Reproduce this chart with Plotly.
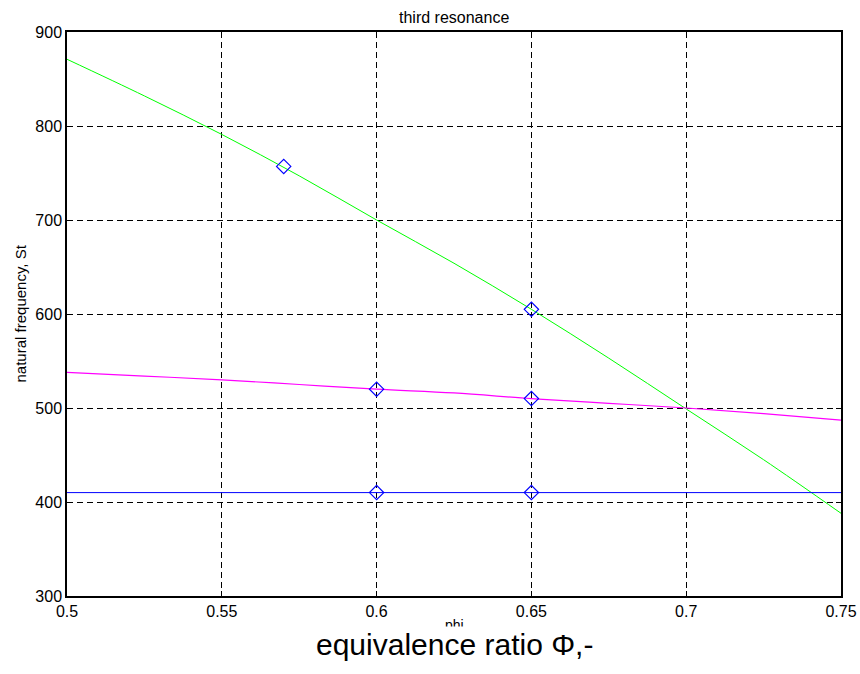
import plotly.graph_objects as go

# --- data ---
phi_curve = [0.5, 0.525, 0.55, 0.575, 0.6, 0.625, 0.65, 0.675, 0.7, 0.725, 0.75]
green_vals = [871, 832, 791, 747, 700, 654, 605, 553, 499, 445, 388]
magenta_vals = [538, 534, 530, 525, 520, 516, 510, 505, 500, 494, 487]
blue_phi = [0.5, 0.75]
blue_vals = [410, 410]

marker_phi = [0.57, 0.65, 0.6, 0.65, 0.6, 0.65]
marker_vals = [757, 605, 520, 510, 410, 410]

x_ticks = [0.5, 0.55, 0.6, 0.65, 0.7, 0.75]
y_ticks = [300, 400, 500, 600, 700, 800, 900]

FONT = "Liberation Sans, Arial, sans-serif"

fig = go.Figure()
fig.add_trace(go.Scatter(x=phi_curve, y=green_vals, mode="lines",
                         line=dict(color="#00ff00", width=1, shape="spline"),
                         showlegend=False))
fig.add_trace(go.Scatter(x=phi_curve, y=magenta_vals, mode="lines",
                         line=dict(color="#ff00ff", width=1.2, shape="spline"),
                         showlegend=False))
fig.add_trace(go.Scatter(x=blue_phi, y=blue_vals, mode="lines",
                         line=dict(color="#0000ff", width=1),
                         showlegend=False))
fig.add_trace(go.Scatter(x=marker_phi, y=marker_vals, mode="markers",
                         marker=dict(symbol="diamond-open", size=11,
                                     color="#0000ff", line=dict(width=1.2, color="#0000ff")),
                         showlegend=False))

axis_common = dict(
    showline=True, linecolor="black", linewidth=1.5, mirror="ticks",
    ticks="inside", ticklen=5, tickcolor="black", automargin=False,
    showgrid=True, gridcolor="black", gridwidth=1, griddash="6px,4px",
    zeroline=False, tickfont=dict(family=FONT, size=16, color="black"),
)

fig.update_xaxes(range=[0.5, 0.75], tickvals=x_ticks,
                 ticktext=[f"{v:g}" for v in x_ticks], **axis_common)
fig.update_yaxes(range=[300, 900], tickvals=y_ticks, **axis_common)

fig.update_layout(
    width=860, height=674,
    margin=dict(l=67, r=19, t=32, b=78),
    paper_bgcolor="white", plot_bgcolor="white",
    font=dict(family=FONT, color="black"),
    annotations=[
        dict(text="third resonance", x=0.5, y=1, xref="paper", yref="paper",
             xanchor="center", yanchor="bottom", yshift=4, showarrow=False,
             font=dict(size=16, family=FONT)),
        dict(text="natural frequency, St", x=0, y=0.5, xref="paper", yref="paper",
             xanchor="right", yanchor="middle", xshift=-37, textangle=-90,
             showarrow=False, font=dict(size=15, family=FONT)),
        dict(text="phi", x=0.5, y=0, xref="paper", yref="paper",
             xanchor="center", yanchor="top", yshift=-19,
             showarrow=False, font=dict(size=14, family=FONT)),
        dict(text="equivalence ratio \u03a6,-", x=0.5, y=0, xref="paper", yref="paper",
             xanchor="center", yanchor="top", yshift=-30, showarrow=False,
             bgcolor="white", font=dict(size=30, family=FONT)),
    ],
)

fig.write_html("out.html")
